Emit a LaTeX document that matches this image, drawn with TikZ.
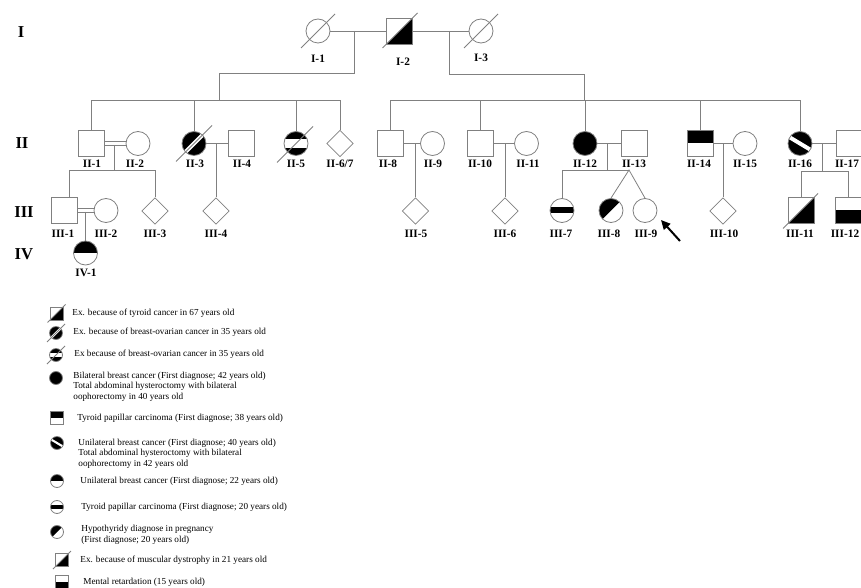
\documentclass[tikz,border=0pt]{standalone}
\usepackage{fontspec}
\setmainfont{Liberation Serif}
\usetikzlibrary{shapes.geometric,arrows.meta,calc}
\definecolor{lgray}{RGB}{128,128,128}
\def\ppbb{path picture bounding box}
\tikzset{every picture/.style={line width=0.6pt},
  male/.style={draw=lgray,rectangle,inner sep=0pt,minimum size=19.5pt},
  female/.style={draw=lgray,circle,inner sep=0pt,minimum size=18pt},
  unknown/.style={draw=lgray,diamond,inner sep=0pt,minimum size=20pt},
  small/.style={minimum size=9.75pt},
  link/.style={draw=lgray},
  slash/.style={draw=lgray},
  affected/.style={fill=black},
  tophalf/.style={path picture={\fill (\ppbb.west) rectangle (\ppbb.north east);}},
  bothalf/.style={path picture={\fill (\ppbb.west) rectangle (\ppbb.south east);}},
  lowtri/.style={path picture={\fill (\ppbb.south west) -- (\ppbb.south east) -- (\ppbb.north east) -- cycle;}},
  upleft/.style={path picture={\fill (\ppbb.south west) -- (\ppbb.north west) -- (\ppbb.north east) -- cycle;}},
  midband/.style={path picture={\fill ($(\ppbb.west)!0.25!(\ppbb.north west)$) rectangle ($(\ppbb.east)!0.25!(\ppbb.south east)$);}},
  whiteband/.style={path picture={\fill (\ppbb.south west) rectangle (\ppbb.north east);
      \fill[white] ($(\ppbb.west)!0.375!(\ppbb.north west)$) rectangle ($(\ppbb.east)!0.375!(\ppbb.south east)$);}},
  diagband/.style={path picture={\fill (\ppbb.south west) rectangle (\ppbb.north east);
      \draw[white,line width=#1] (\ppbb.south west) -- (\ppbb.north east);}},
  diagband/.default=3pt,
  slantband/.style={path picture={\fill (\ppbb.south west) rectangle (\ppbb.north east);
      \draw[white,line width=#1] ($(\ppbb.north west)!0.2!(\ppbb.south west)$) -- ($(\ppbb.north east)!0.8!(\ppbb.south east)$);}},
  slantband/.default=3pt,
  tag/.style={font=\bfseries\fontsize{8.5}{10}\selectfont,inner sep=0.75pt},
  gen/.style={font=\bfseries\fontsize{12.5}{14}\selectfont,inner sep=0.75pt},
  legend/.style={font=\fontsize{6.9}{7.9}\selectfont,anchor=west,align=left,inner sep=0.75pt}
}
\begin{document}
\begin{tikzpicture}[x=0.75pt,y=0.75pt,yscale=-1,xscale=1]
\useasboundingbox (0,0) rectangle (861,588);

%Generation I
\node[female] (I-1) at (318,31) {};
\node[male,lowtri] (I-2) at (399.5,31) {};
\node[female] (I-3) at (481,31) {};
\draw[slash] ([shift={(-17,17)}]I-1.center) -- ([shift={(17,-17)}]I-1.center);
\draw[slash] ([shift={(-17,17)}]I-2.center) -- ([shift={(18,-18)}]I-2.center);
\draw[slash] ([shift={(-17,17)}]I-3.center) -- ([shift={(17,-17)}]I-3.center);
\draw[link] (I-1.east) -- (I-2.west);
\draw[link] (I-2.east) -- (I-3.west);

%Generation II
\node[male] (II-1) at (91,143.5) {};
\node[female] (II-2) at (138,143.5) {};
\node[female,diagband] (II-3) at (194,143.5) {};
\node[male] (II-4) at (241.5,143.5) {};
\node[female,whiteband] (II-5) at (296,143.5) {};
\node[unknown] (II-6-7) at (340,143.5) {};
\node[male] (II-8) at (390,143.5) {};
\node[female] (II-9) at (432.5,143.5) {};
\node[male] (II-10) at (480,143.5) {};
\node[female] (II-11) at (526.5,143.5) {};
\node[female,affected] (II-12) at (585,143.5) {};
\node[male] (II-13) at (634,143.5) {};
\node[male,tophalf] (II-14) at (700,143.5) {};
\node[female] (II-15) at (745,143.5) {};
\node[female,slantband] (II-16) at (800,143.5) {};
\node[male] (II-17) at (849,143.5) {};
\draw[slash] ([shift={(-18,18)}]II-3.center) -- ([shift={(18,-18)}]II-3.center);
\draw[slash] ([shift={(-19,19)}]II-5.center) -- ([shift={(17,-17)}]II-5.center);

%Generation III
\node[male] (III-1) at (64,210.5) {};
\node[female] (III-2) at (106,210.5) {};
\node[unknown] (III-3) at (155,211) {};
\node[unknown] (III-4) at (216,211) {};
\node[unknown] (III-5) at (415.5,211) {};
\node[unknown] (III-6) at (505,211) {};
\node[female,midband] (III-7) at (562,210.5) {};
\node[female,upleft] (III-8) at (611,210.5) {};
\node[female] (III-9) at (645,210.5) {};
\node[unknown] (III-10) at (723,211) {};
\node[male,lowtri] (III-11) at (801,210.5) {};
\node[male,bothalf] (III-12) at (848.5,210.5) {};
\draw[slash] ([shift={(-18,18)}]III-11.center) -- ([shift={(17,-17)}]III-11.center);

%Generation IV
\node[female,tophalf] (IV-1) at (85.5,253) {};

%Lines of descent I
\coordinate (m1) at (354,31);
\coordinate (k1) at (219,73);
\coordinate (s1) at (219,100);
\draw[link] (m1) |- (k1) -- (s1);
\draw[link] (II-1.north |- s1) -- (II-6-7.north |- s1);
\foreach \n in {II-1,II-3,II-5,II-6-7}
  \draw[link] (\n.north) -- (\n.north |- s1);
\coordinate (m2) at (449,31);
\coordinate (k2) at (584,74);
\coordinate (s2) at (584,100);
\draw[link] (m2) |- (k2) -- (s2);
\draw[link] (II-8.north |- s2) -- (II-16.north |- s2);
\foreach \n in {II-8,II-10,II-12,II-14,II-16}
  \draw[link] (\n.north) -- (\n.north |- s2);

%Couples and children II
\draw[link] ([yshift=1.5pt]II-1.east) -- ([yshift=1.5pt]II-2.west);
\draw[link] ([yshift=-1.5pt]II-1.east) -- ([yshift=-1.5pt]II-2.west);
\coordinate (m3) at (114,145);
\coordinate (s3) at (114,170);
\coordinate (s3a) at (69,170);
\draw[link] (m3) -- (s3);
\draw[link] (s3a) -- (III-3.north |- s3);
\draw[link] (s3a) -- (s3a |- III-1.north);
\draw[link] (III-3.north) -- (III-3.north |- s3);
\draw[link] (II-3.east) -- (II-4.west);
\coordinate (m4) at (216,143.5);
\draw[link] (m4) -- (III-4.north);
\draw[link] (II-8.east) -- (II-9.west);
\coordinate (m5) at (415.5,143.5);
\draw[link] (m5) -- (III-5.north);
\draw[link] (II-10.east) -- (II-11.west);
\coordinate (m6) at (505,143.5);
\draw[link] (m6) -- (III-6.north);
\draw[link] (II-12.east) -- (II-13.west);
\coordinate (m7) at (607,143.5);
\coordinate (s7) at (607,170);
\coordinate (t7) at (629,170);
\draw[link] (m7) -- (s7);
\draw[link] (III-7.north |- s7) -- (t7);
\draw[link] (III-7.north) -- (III-7.north |- s7);
\draw[link] (III-8.north) -- (t7) -- (III-9.north);
\draw[link] (II-14.east) -- (II-15.west);
\coordinate (m8) at (723,143.5);
\draw[link] (m8) -- (III-10.north);
\draw[link] (II-16.east) -- (II-17.west);
\coordinate (m9) at (822.7,143.5);
\coordinate (s9) at (822.7,171);
\draw[link] (m9) -- (s9);
\draw[link] (III-11.north |- s9) -- (III-12.north |- s9);
\draw[link] (III-11.north) -- (III-11.north |- s9);
\draw[link] (III-12.north) -- (III-12.north |- s9);

%Couple III
\draw[link] ([yshift=1.5pt]III-1.east) -- ([yshift=1.5pt]III-2.west);
\draw[link] ([yshift=-1.5pt]III-1.east) -- ([yshift=-1.5pt]III-2.west);
\coordinate (m10) at (85.5,212);
\draw[link] (m10) -- (IV-1.north);

%Proband arrow
\coordinate (arrtail) at (680,241);
\coordinate (arrtip) at (661,220);
\draw[-{Triangle[length=7pt,width=6.5pt]},line width=1.5pt] (arrtail) -- (arrtip);

% Text Node
\node[gen] (g1) at (21,32) {I};
\node[gen] (g2) at (22,143.5) {II};
\node[gen] (g3) at (24,212) {III};
\node[gen] (g4) at (24,254) {IV};
% Text Node
\node[tag] (t-I-1) at (318,59) {I-1};
\node[tag] (t-I-2) at (403,62) {I-2};
\node[tag] (t-I-3) at (481,58) {I-3};
% Text Node
\node[tag] (t-II-1) at (92,163.5) {II-1};
\node[tag] (t-II-2) at (135,163.5) {II-2};
\node[tag] (t-II-3) at (195,163.5) {II-3};
\node[tag] (t-II-4) at (242,163.5) {II-4};
\node[tag] (t-II-5) at (296,163.5) {II-5};
\node[tag] (t-II-6-7) at (340,163.5) {II-6/7};
\node[tag] (t-II-8) at (388,163.5) {II-8};
\node[tag] (t-II-9) at (433,163.5) {II-9};
\node[tag] (t-II-10) at (480,163.5) {II-10};
\node[tag] (t-II-11) at (528,163.5) {II-11};
\node[tag] (t-II-12) at (585,163.5) {II-12};
\node[tag] (t-II-13) at (634,163.5) {II-13};
\node[tag] (t-II-14) at (699,163.5) {II-14};
\node[tag] (t-II-15) at (745,163.5) {II-15};
\node[tag] (t-II-16) at (800,163.5) {II-16};
\node[tag] (t-II-17) at (847,163.5) {II-17};
% Text Node
\node[tag] (t-III-1) at (63,233.5) {III-1};
\node[tag] (t-III-2) at (106,233.5) {III-2};
\node[tag] (t-III-3) at (155,233.5) {III-3};
\node[tag] (t-III-4) at (216,233.5) {III-4};
\node[tag] (t-III-5) at (416,233.5) {III-5};
\node[tag] (t-III-6) at (505,233.5) {III-6};
\node[tag] (t-III-7) at (561,233.5) {III-7};
\node[tag] (t-III-8) at (609,233.5) {III-8};
\node[tag] (t-III-9) at (646,233.5) {III-9};
\node[tag] (t-III-10) at (724,233.5) {III-10};
\node[tag] (t-III-11) at (800,233.5) {III-11};
\node[tag] (t-III-12) at (845,233.5) {III-12};
\node[tag] (t-IV-1) at (86,273) {IV-1};

%Legend
\node[male,small,lowtri] (k-1) at (56.5,313.5) {};
\draw[slash] ([shift={(-9,9)}]k-1.center) -- ([shift={(9,-9)}]k-1.center);
\node[legend] (l-1) at (71,313) {Ex. because of tyroid cancer in 67 years old};
\node[female,small,diagband=1.6pt] (k-2) at (56,333) {};
\draw[slash] ([shift={(-9,9)}]k-2.center) -- ([shift={(9,-9)}]k-2.center);
\node[legend] (l-2) at (72,332) {Ex. because of breast-ovarian cancer in 35 years old};
\node[female,small,whiteband] (k-3) at (56,355) {};
\draw[slash] ([shift={(-9,9)}]k-3.center) -- ([shift={(9,-9)}]k-3.center);
\node[legend] (l-3) at (73,354) {Ex because of breast-ovarian cancer in 35 years old};
\node[female,small,affected] (k-4) at (56,378) {};
\node[legend] (l-4) at (72,386.5) {Bilateral breast cancer (First diagnose; 42 years old)\\Total abdominal hysteroctomy with bilateral\\oophorectomy in 40 years old};
\node[male,small,tophalf] (k-5) at (57,418) {};
\node[legend] (l-5) at (76,418) {Tyroid papillar carcinoma (First diagnose; 38 years old)};
\node[female,small,slantband=1.6pt] (k-6) at (57,443) {};
\node[legend] (l-6) at (77,453.5) {Unilateral breast cancer (First diagnose; 40 years old)\\Total abdominal hysteroctomy with bilateral\\oophorectomy in 42 years old};
\node[female,small,tophalf] (k-7) at (57,481) {};
\node[legend] (l-7) at (79,481) {Unilateral breast cancer (First diagnose; 22 years old)};
\node[female,small,midband] (k-8) at (57,507) {};
\node[legend] (l-8) at (80,507) {Tyroid papillar carcinoma (First diagnose; 20 years old)};
\node[female,small,upleft] (k-9) at (57,532) {};
\node[legend] (l-9) at (80,535) {Hypothyridy diagnose in pregnancy\\(First diagnose; 20 years old)};
\node[male,small,lowtri] (k-10) at (62,560) {};
\draw[slash] ([shift={(-9,9)}]k-10.center) -- ([shift={(9,-9)}]k-10.center);
\node[legend] (l-10) at (79,560) {Ex. because of muscular dystrophy in 21 years old};
\node[male,small,bothalf] (k-11) at (62,582) {};
\node[legend] (l-11) at (82,582) {Mental retardation (15 years old)};

\end{tikzpicture}
\end{document}
